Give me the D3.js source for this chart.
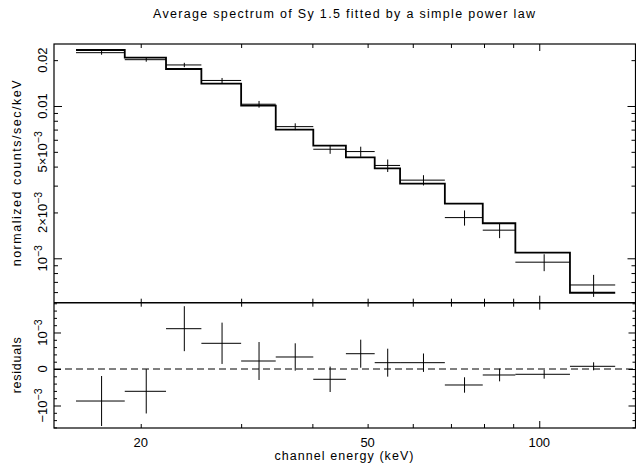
<!DOCTYPE html>
<html>
<head>
<meta charset="utf-8">
<script src="https://cdn.jsdelivr.net/npm/d3@7"></script>
<style>
  html, body { margin: 0; padding: 0; background: #fff; }
  svg { display: block; }
  text { font-family: "Liberation Sans", "DejaVu Sans", sans-serif; fill: #000; }
</style>
</head>
<body>
<svg id="chart" width="636" height="471"></svg>
<script>
// ---- data ----
const binLo = [15.4, 18.75, 22.15, 25.55, 30.0, 34.5, 40.15, 45.8, 51.45, 57.0, 68.3, 79.6, 90.8, 113.2];
const binHi = [18.75, 22.15, 25.55, 30.0, 34.5, 40.15, 45.8, 51.45, 57.0, 68.3, 79.6, 90.8, 113.2, 135.9];
const modelRate = [0.02332, 0.02075, 0.01750, 0.014006, 0.01005, 0.00699, 0.005486, 0.004604, 0.003899, 0.003089, 0.002283, 0.001698, 0.001088, 0.000594];
const dataRate = [0.02239, 0.02014, 0.01860, 0.01471, 0.01027, 0.00732, 0.00520, 0.00502, 0.00407, 0.00326, 0.00185, 0.00153, 0.000943, 0.000668];
const rateErr = [0.000685, 0.000607, 0.000616, 0.000566, 0.00052, 0.000375, 0.000348, 0.000384, 0.000383, 0.000252, 0.000211, 0.000174, 0.00012, 0.00011];
const residual = [-0.000877, -0.000611, 0.001104, 0.000704, 0.000219, 0.000329, -0.000282, 0.000419, 0.000173, 0.000173, -0.000438, -0.000164, -0.000145, 0.000074];

// ticks and labels
const xMinorTicks = [20, 30, 40, 50, 60, 70, 80, 90];
const xMajorTicks = [100];
const xLabels = [20, 50, 100];
const yTopMinor = [0.0006, 0.0007, 0.0008, 0.0009, 0.002, 0.003, 0.004, 0.005, 0.006, 0.007, 0.008, 0.009, 0.02];
const yTopMajor = [0.001, 0.01];
const yTopLabels = [
  { v: 0.02, m: "0.02", e: "" },
  { v: 0.01, m: "0.01", e: "" },
  { v: 0.005, m: "5×10", e: "−3" },
  { v: 0.002, m: "2×10", e: "−3" },
  { v: 0.001, m: "10", e: "−3" }
];
const yResMinor = [-0.0016, -0.0014, -0.0012, -0.0008, -0.0006, -0.0004, -0.0002, 0.0002, 0.0004, 0.0006, 0.0008, 0.0012, 0.0014, 0.0016, 0.0018];
const yResMajor = [-0.001, 0, 0.001];
const yResLabels = [
  { v: 0.001, m: "10", e: "−3" },
  { v: 0, m: "0", e: "" },
  { v: -0.001, m: "−10", e: "−3" }
];
const titleText = "Average spectrum of Sy 1.5 fitted by a simple power law";
const xTitle = "channel energy (keV)";
const yTopTitle = "normalized counts/sec/keV";
const yResTitle = "residuals";

// ---- layout ----
const L = 54, R = 635.5, T = 44, MID = 302.7, B = 428;
const svg = d3.select("#chart");

const x = d3.scaleLog().domain([14.09, 147.5]).range([L, R]);
const yTop = d3.scaleLog().domain([5.11e-4, 0.02553]).range([MID, T]);
const yRes = d3.scaleLinear().domain([-1.616e-3, 1.816e-3]).range([B, MID]);

const idx = d3.range(binLo.length);

// ---- title ----
svg.append("text").attr("x", 344).attr("y", 18).attr("text-anchor", "middle")
  .attr("font-size", 12.5).attr("textLength", 382).attr("lengthAdjust", "spacing").text(titleText);

// ---- axes helpers ----
function axisG(axis, tx, ty) {
  const g = svg.append("g").attr("transform", `translate(${tx},${ty})`).call(axis);
  g.select(".domain").remove();
  g.selectAll("text").remove();
  g.selectAll("line").attr("stroke", "#000").attr("stroke-width", 1);
  return g;
}
const xMinLen = 4, xMajLen = 7;
[[T, 1], [MID, -1], [MID, 1], [B, -1]].forEach(([yy, dir]) => {
  const mk = (ticks, len) => {
    const ax = dir > 0 ? d3.axisBottom(x) : d3.axisTop(x);
    axisG(ax.tickValues(ticks).tickSize(len).tickFormat(""), 0, yy);
  };
  mk(xMinorTicks, xMinLen);
  mk(xMajorTicks, xMajLen);
});
axisG(d3.axisLeft(yTop).tickValues(yTopMinor).tickSize(-4).tickFormat(""), L, 0);
axisG(d3.axisLeft(yTop).tickValues(yTopMajor).tickSize(-8).tickFormat(""), L, 0);
axisG(d3.axisRight(yTop).tickValues(yTopMinor).tickSize(-4).tickFormat(""), R, 0);
axisG(d3.axisRight(yTop).tickValues(yTopMajor).tickSize(-8).tickFormat(""), R, 0);
axisG(d3.axisLeft(yRes).tickValues(yResMinor).tickSize(-3).tickFormat(""), L, 0);
axisG(d3.axisLeft(yRes).tickValues(yResMajor).tickSize(-7).tickFormat(""), L, 0);
axisG(d3.axisRight(yRes).tickValues(yResMinor).tickSize(-3).tickFormat(""), R, 0);
axisG(d3.axisRight(yRes).tickValues(yResMajor).tickSize(-7).tickFormat(""), R, 0);

// ---- frames ----
svg.append("rect").attr("x", L).attr("y", T).attr("width", R - L).attr("height", B - T)
  .attr("fill", "none").attr("stroke", "#000").attr("stroke-width", 1.2);
svg.append("line").attr("x1", L).attr("x2", R).attr("y1", MID).attr("y2", MID)
  .attr("stroke", "#000").attr("stroke-width", 1.6);

// ---- tick labels ----
function rotLabel(list, scale, bx) {
  list.forEach(d => {
    const t = svg.append("text").attr("transform", `translate(${bx},${scale(d.v)}) rotate(-90)`)
      .attr("text-anchor", "middle").attr("font-size", 13);
    t.append("tspan").text(d.m);
    if (d.e) t.append("tspan").attr("dy", -5).attr("font-size", 10.5).text(d.e);
  });
}
rotLabel(yTopLabels, yTop, 47);
rotLabel(yResLabels, yRes, 47);

svg.selectAll(".xl").data(xLabels).enter().append("text")
  .attr("x", d => x(d)).attr("y", 446.5).attr("text-anchor", "middle").attr("font-size", 13)
  .text(d => d);

// ---- axis titles ----
svg.append("text").attr("x", 344).attr("y", 460).attr("text-anchor", "middle").attr("font-size", 12.5)
  .attr("textLength", 139).attr("lengthAdjust", "spacing").text(xTitle);
svg.append("text").attr("transform", `translate(20.5,${(T + MID) / 2}) rotate(-90)`).attr("text-anchor", "middle")
  .attr("font-size", 12.5).attr("textLength", 186).attr("lengthAdjust", "spacing").text(yTopTitle);
svg.append("text").attr("transform", `translate(20.5,${(MID + B) / 2}) rotate(-90)`).attr("text-anchor", "middle")
  .attr("font-size", 12.5).attr("textLength", 56).attr("lengthAdjust", "spacing").text(yResTitle);

// ---- zero line ----
svg.append("line").attr("x1", L).attr("x2", R).attr("y1", yRes(0)).attr("y2", yRes(0))
  .attr("stroke", "#000").attr("stroke-width", 1).attr("stroke-dasharray", "7,4");

// ---- data crosses (top) ----
const mid = i => (binLo[i] + binHi[i]) / 2;
const topG = svg.append("g").attr("stroke", "#000").attr("stroke-width", 1);
idx.forEach(i => {
  topG.append("line").attr("x1", x(binLo[i])).attr("x2", x(binHi[i]))
    .attr("y1", yTop(dataRate[i])).attr("y2", yTop(dataRate[i]));
  topG.append("line").attr("x1", x(mid(i))).attr("x2", x(mid(i)))
    .attr("y1", yTop(dataRate[i] + rateErr[i])).attr("y2", yTop(dataRate[i] - rateErr[i]));
});

// ---- model step ----
const stepPts = idx.map(i => [binLo[i], modelRate[i]]);
stepPts.push([binHi[binHi.length - 1], modelRate[modelRate.length - 1]]);
svg.append("path").attr("d", d3.line().x(d => x(d[0])).y(d => yTop(d[1])).curve(d3.curveStepAfter)(stepPts))
  .attr("fill", "none").attr("stroke", "#000").attr("stroke-width", 1.8);

// ---- residual crosses ----
const resG = svg.append("g").attr("stroke", "#000").attr("stroke-width", 1);
idx.forEach(i => {
  resG.append("line").attr("x1", x(binLo[i])).attr("x2", x(binHi[i]))
    .attr("y1", yRes(residual[i])).attr("y2", yRes(residual[i]));
  resG.append("line").attr("x1", x(mid(i))).attr("x2", x(mid(i)))
    .attr("y1", yRes(residual[i] + rateErr[i])).attr("y2", yRes(residual[i] - rateErr[i]));
});
</script>
</body>
</html>
